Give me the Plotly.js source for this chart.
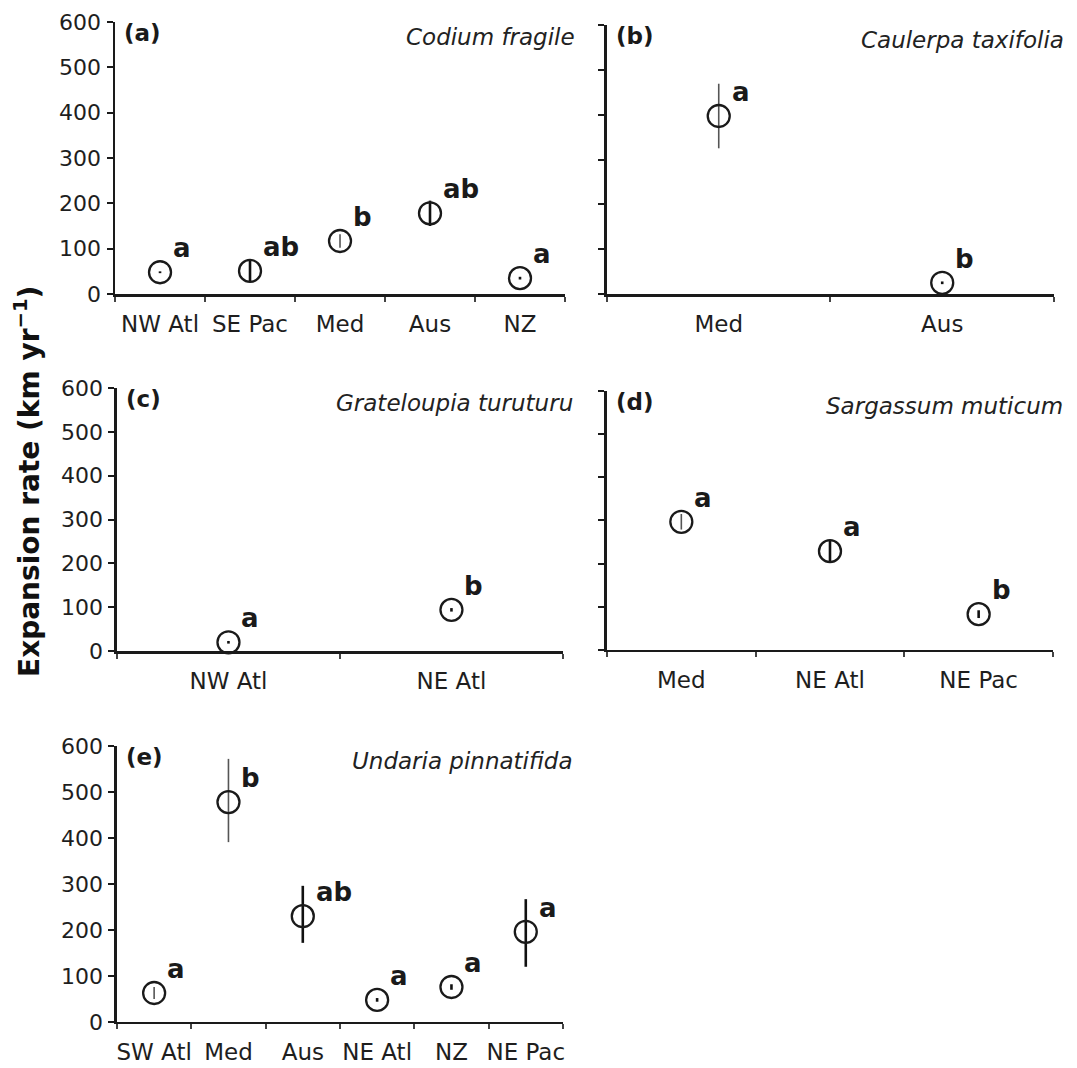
<!DOCTYPE html>
<html>
<head>
<meta charset="utf-8">
<script src="https://cdn.plot.ly/plotly-3.0.1.min.js"></script>
<style>html,body{margin:0;padding:0;background:#fff;}</style>
</head>
<body>
<div id="chart" style="width:1077px;height:1068px;"></div>
<script>
// ---- Data ----
// (a) Codium fragile
const catA = ['NW Atl', 'SE Pac', 'Med', 'Aus', 'NZ'];
const valA = [48, 51, 117, 178, 35];
const errA = [2, 24, 15, 28, 3];
const sigA = ['a', 'ab', 'b', 'ab', 'a'];
// (b) Caulerpa taxifolia
const catB = ['Med', 'Aus'];
const valB = [397, 25];
const errB = [72, 3];
const sigB = ['a', 'b'];
// (c) Grateloupia turuturu
const catC = ['NW Atl', 'NE Atl'];
const valC = [20, 94];
const errC = [3, 4];
const sigC = ['a', 'b'];
// (d) Sargassum muticum
const catD = ['Med', 'NE Atl', 'NE Pac'];
const valD = [297, 229, 83];
const errD = [18, 25, 9];
const sigD = ['a', 'a', 'b'];
// (e) Undaria pinnatifida
const catE = ['SW Atl', 'Med', 'Aus', 'NE Atl', 'NZ', 'NE Pac'];
const valE = [63, 478, 230, 48, 76, 196];
const errEplus = [13, 94, 66, 4, 6, 71];
const errEminus = [13, 87, 58, 4, 6, 76];
const sigE = ['a', 'b', 'ab', 'a', 'a', 'a'];

const panelLabels = ['(a)', '(b)', '(c)', '(d)', '(e)'];
const species = ['Codium fragile', 'Caulerpa taxifolia', 'Grateloupia turuturu', 'Sargassum muticum', 'Undaria pinnatifida'];
const yTitle = 'Expansion rate (km yr<sup>−1</sup>)';
const yTicks = [0, 100, 200, 300, 400, 500, 600];

// ---- Styling (separate from data) ----
const FONT = 'DejaVu Sans, Verdana, sans-serif';
const INK = '#1a1a1a';
// error-bar tone per point: 'g' = thin grey, 'k' = thick black
const tones = [
  ['k', 'k', 'g', 'k', 'k'],
  ['g', 'k'],
  ['k', 'k'],
  ['g', 'k', 'k'],
  ['g', 'g', 'k', 'k', 'k', 'k']
];
const toneStyle = {g: {color: '#555', thickness: 1.6}, k: {color: '#111', thickness: 2.6}};

const panels = [
  {cat: catA, val: valA, ep: errA, em: errA, sig: sigA, labels: true},
  {cat: catB, val: valB, ep: errB, em: errB, sig: sigB, labels: false},
  {cat: catC, val: valC, ep: errC, em: errC, sig: sigC, labels: true},
  {cat: catD, val: valD, ep: errD, em: errD, sig: sigD, labels: false},
  {cat: catE, val: valE, ep: errEplus, em: errEminus, sig: sigE, labels: true}
];

// domains in paper fractions
const xDom = [[0.1068, 0.5246], [0.5636, 0.9786], [0.1086, 0.5227], [0.5636, 0.9777], [0.1086, 0.5227]];
const yDom = [[0.7247, 0.9794], [0.7247, 0.9766], [0.3904, 0.6367], [0.3914, 0.6339], [0.0431, 0.3015]];

const traces = [];
const layout = {
  width: 1077, height: 1068,
  margin: {l: 0, r: 0, t: 0, b: 0},
  paper_bgcolor: '#fff', plot_bgcolor: 'rgba(0,0,0,0)',
  showlegend: false,
  annotations: []
};

panels.forEach((p, i) => {
  const n = i === 0 ? '' : String(i + 1);
  const xa = 'x' + n, ya = 'y' + n;
  p.cat.forEach((c, k) => {
    const st = toneStyle[tones[i][k]];
    traces.push({
      type: 'scatter', mode: 'markers',
      x: [k], y: [p.val[k]],
      xaxis: xa, yaxis: ya,
      cliponaxis: false,
      marker: {symbol: 'circle-open', size: 22, color: INK, line: {width: 2.3, color: INK}},
      error_y: {type: 'data', symmetric: false, array: [p.ep[k]], arrayminus: [p.em[k]],
                width: 0, thickness: st.thickness, color: st.color},
      hoverinfo: 'skip'
    });
  });
  layout['xaxis' + n] = {
    domain: xDom[i], anchor: ya,
    type: 'linear', range: [-0.5, p.cat.length - 0.5],
    tickmode: 'array', tickvals: p.cat.map((c, k) => k), ticktext: p.cat,
    showticklabels: true,
    ticks: '', showgrid: false, zeroline: false,
    showline: true, linecolor: INK, linewidth: 2.5,
    tickfont: {family: FONT, size: 23, color: '#1e1e1e'},
    ticklabelstandoff: 8,
    fixedrange: true,
    minor: {
      tickmode: 'array',
      tickvals: p.cat.map((c, k) => k - 0.5).concat([p.cat.length - 0.5]),
      ticks: 'outside', ticklen: 5, tickwidth: 2, tickcolor: '#444', showgrid: false
    }
  };
  layout['yaxis' + n] = {
    domain: yDom[i], anchor: xa,
    range: [0, 600], tickmode: 'array', tickvals: yTicks,
    showticklabels: p.labels,
    ticks: 'outside', ticklen: 6, tickwidth: 2, tickcolor: INK,
    showgrid: false, zeroline: false,
    showline: true, linecolor: INK, linewidth: 2.5,
    tickfont: {family: FONT, size: 22, color: '#1e1e1e'},
    ticklabelstandoff: 1,
    fixedrange: true
  };
  // significance letters
  p.sig.forEach((s, k) => {
    layout.annotations.push({
      xref: xa, yref: ya, x: k, y: p.val[k],
      text: '<b>' + s + '</b>', showarrow: false,
      xanchor: 'left', yanchor: 'bottom', xshift: 11, yshift: 7,
      font: {family: FONT, size: 26, color: INK}
    });
  });
  // panel label
  layout.annotations.push({
    xref: xa + ' domain', yref: ya + ' domain', x: 0, y: 1,
    text: '<b>' + panelLabels[i] + '</b>', showarrow: false,
    xanchor: 'left', yanchor: 'top', xshift: 7, yshift: 4,
    font: {family: FONT, size: 23, color: INK}
  });
  // species name
  layout.annotations.push({
    xref: xa + ' domain', yref: ya + ' domain', x: 1, y: 1,
    text: '<i>' + species[i] + '</i>', showarrow: false,
    xanchor: 'right', yanchor: 'top', xshift: 12, yshift: 0,
    font: {family: FONT, size: 23, color: '#222'}
  });
});

// shared y-axis title
layout.annotations.push({
  xref: 'paper', yref: 'paper', x: 27 / 1077, y: 1 - 482 / 1068,
  text: '<b>' + yTitle + '</b>', showarrow: false, textangle: -90,
  xanchor: 'center', yanchor: 'middle',
  font: {family: FONT, size: 28, color: '#111'}
});

Plotly.newPlot('chart', traces, layout, {staticPlot: true, displayModeBar: false});
</script>
</body>
</html>
